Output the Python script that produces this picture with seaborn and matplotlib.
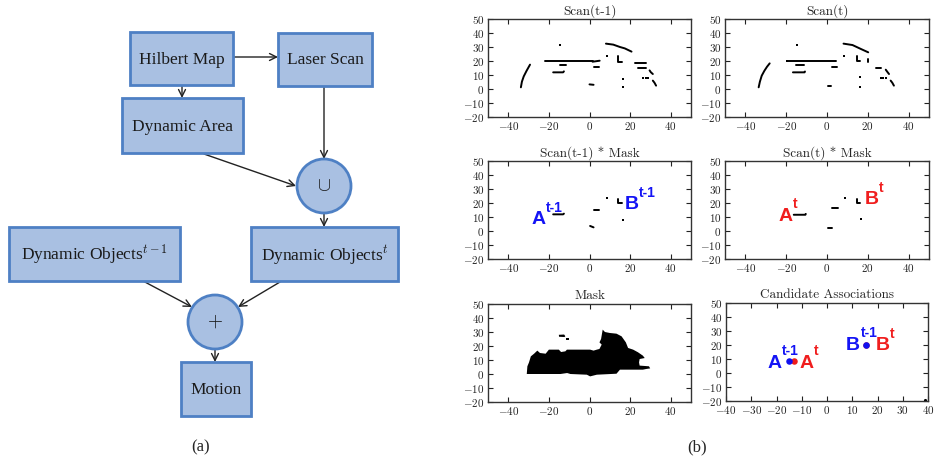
import numpy as np
import pandas as pd
import matplotlib
matplotlib.use("Agg")
import matplotlib.pyplot as plt
from matplotlib.patches import Rectangle, Circle
from matplotlib import font_manager
import seaborn as sns

# ---------------- data ----------------
scan_prev_lines = [
    [(-33.8, 1.2), (-33.3, 5.2), (-32.4, 9.0), (-31.0, 13.0), (-29.3, 17.4)],
    [(-22.0, 20.0), (1.5, 20.0)],
    [(1.5, 19.5), (5.0, 20.2)],
    [(-14.6, 17.4), (-11.4, 17.4)],
    [(-17.9, 11.9), (-13.0, 11.9), (-12.6, 12.6)],
    [(2.3, 16.0), (4.9, 16.0)],
    [(0.0, 3.3), (2.0, 3.0)],
    [(8.1, 32.4), (11.7, 31.7), (15.0, 30.0), (17.4, 29.0), (20.7, 26.7)],
    [(14.2, 23.3), (14.2, 19.6), (15.9, 19.6)],
    [(22.3, 18.8), (27.6, 18.8)],
    [(23.9, 15.0), (28.0, 15.0)],
    [(29.6, 13.3), (30.2, 12.0), (31.2, 10.7)],
    [(31.2, 6.0), (32.0, 4.5), (32.8, 2.4)],
]
scan_prev_dots = [(-14.6, 31.4), (8.5, 23.8), (16.3, 7.1), (16.3, 1.2),
                  (26.3, 7.6), (27.6, 7.6), (28.9, 7.6)]

scan_cur_lines = [
    [(-33.5, 1.2), (-32.9, 5.2), (-32.0, 9.5), (-30.7, 13.0), (-29.4, 15.9), (-28.1, 18.3)],
    [(-18.9, 20.2), (4.4, 20.2)],
    [(-15.1, 17.4), (-11.4, 17.4)],
    [(-16.7, 11.9), (-11.0, 11.9), (-10.8, 12.5)],
    [(2.3, 16.0), (4.9, 16.0)],
    [(0.3, 2.4), (2.0, 2.4)],
    [(8.1, 32.4), (12.5, 31.4), (16.6, 28.6), (20.2, 26.2)],
    [(14.5, 23.3), (14.5, 19.8), (16.0, 19.8)],
    [(20.3, 21.4), (20.3, 19.0)],
    [(23.9, 15.2), (26.3, 15.2)],
    [(28.8, 13.8), (29.6, 12.2), (30.4, 10.7)],
    [(31.2, 6.0), (32.0, 4.5), (32.8, 2.4)],
]
scan_cur_dots = [(-14.6, 31.4), (8.5, 23.8), (16.3, 8.8), (16.3, 1.2),
                 (26.3, 7.6), (27.6, 7.6), (28.9, 7.6), (-19.4, 20.2)]

masked_prev_lines = [
    [(-17.9, 11.9), (-13.0, 11.9), (-12.6, 12.4)],
    [(2.0, 15.2), (4.9, 15.2)],
    [(14.1, 23.0), (14.1, 19.8), (15.8, 19.8)],
    [(0.3, 3.6), (2.0, 2.6)],
]
masked_prev_dots = [(8.5, 23.6), (16.3, 7.6)]

masked_cur_lines = [
    [(-16.3, 11.6), (-10.6, 11.6), (-10.4, 12.2)],
    [(2.4, 16.4), (5.2, 16.4)],
    [(14.7, 23.0), (14.7, 20.2), (16.3, 20.2)],
    [(0.5, 2.4), (2.4, 2.4)],
]
masked_cur_dots = [(8.8, 23.8), (16.8, 8.8)]

mask_x = [-30.9, -30.6, -29.8, -28.9, -27.3, -25.7, -24.4, -21.6, -20.0, -15.1, -14.0,
          -11.9, -11.1, 0.3, 2.0, 3.6, 4.9, 6.0, 4.9, 5.7, 6.5, 7.6, 10.0, 13.3, 15.8,
          17.9, 19.0, 21.5, 23.9, 26.3, 27.2, 24.7, 24.4, 24.7, 29.3, 29.9, 28.0, 26.3,
          15.0, 13.3, 3.6, 0.3, -1.3, -9.4, -11.0, -14.3]
mask_y = [0.0, 5.5, 8.3, 12.6, 14.5, 16.7, 15.0, 14.5, 17.4, 17.4, 15.7,
          16.2, 17.4, 17.4, 16.7, 17.4, 17.9, 21.0, 22.6, 25.0, 31.7, 30.0, 29.3, 28.8, 26.9,
          22.6, 18.6, 17.4, 15.5, 13.1, 11.4, 10.7, 8.3, 6.0, 5.5, 4.0, 3.6, 3.1,
          3.1, 0.2, -0.5, -1.7, -0.5, 0.0, 0.7, 0.0]
island1_x = [-15.1, -12.5, -11.9, -12.3, -15.0]
island1_y = [28.0, 28.2, 27.0, 26.4, 26.6]
island2_x = [-11.5, -10.2, -10.2, -11.5]
island2_y = [25.5, 25.5, 24.6, 24.6]

assoc_prev = [(-14.9, 8.8), (15.4, 20.2)]   # blue (t-1)
assoc_cur = [(-12.9, 8.8), (15.6, 20.3)]    # red (t)
stray_dot = [(38.8, -19.5)]

panel_titles = ["Scan(t-1)", "Scan(t)", "Scan(t-1) * Mask", "Scan(t) * Mask",
                "Mask", "Candidate Associations"]
xticks_main = [-40, -20, 0, 20, 40]
xticks_assoc = [-40, -30, -20, -10, 0, 10, 20, 30, 40]
yticks_all = [-20, -10, 0, 10, 20, 30, 40, 50]

# ---------------- style ----------------
sns.set_style("ticks")
plt.rcParams["font.family"] = ["cmr10", "DejaVu Serif"]
plt.rcParams["mathtext.fontset"] = "cm"
plt.rcParams["axes.formatter.use_mathtext"] = True
plt.rcParams["axes.unicode_minus"] = True

installed = {f.name for f in font_manager.fontManager.ttflist}
SANS = "Liberation Sans Narrow" if "Liberation Sans Narrow" in installed else "Liberation Sans"
narrow = SANS == "Liberation Sans Narrow"

W, H = 935, 461
fig = plt.figure(figsize=(W / 100, H / 100), dpi=100)
fig.patch.set_facecolor("white")

# ---------------- flowchart (a) ----------------
axf = fig.add_axes([0, 0, 1, 1])
axf.set_xlim(0, W)
axf.set_ylim(H, 0)
axf.axis("off")

FILL = "#a9c0e2"
EDGE = "#4e80c4"
SERIF = "Liberation Serif"

boxes = [
    ((130, 32, 233, 85), "Hilbert Map"),
    ((278, 33, 372, 86), "Laser Scan"),
    ((122, 98, 243, 153), "Dynamic Area"),
    ((9, 227, 180, 281), r"Dynamic Objects$^{t-1}$"),
    ((251, 227, 398, 281), r"Dynamic Objects$^{t}$"),
    ((181, 362, 251, 416), "Motion"),
]
for (x0, y0, x1, y1), lab in boxes:
    axf.add_patch(Rectangle((x0, y0), x1 - x0, y1 - y0, facecolor=FILL,
                            edgecolor=EDGE, lw=2.0, zorder=2))
    axf.text((x0 + x1) / 2, (y0 + y1) / 2 + 1, lab, ha="center", va="center",
             fontsize=12.5, family=SERIF, math_fontfamily="cm", color="#1a1a1a", zorder=3)

circles = [((324, 186), r"$\cup$"), ((215, 322), r"$+$")]
for (cx, cy), sym in circles:
    axf.add_patch(Circle((cx, cy), 27, facecolor=FILL, edgecolor=EDGE, lw=2.0, zorder=2))
    axf.text(cx, cy, sym, ha="center", va="center", fontsize=14,
             math_fontfamily="cm", color="#1a1a1a", zorder=3)

arrows = [((233, 57), (278, 57)), ((182, 85), (182, 98)), ((324, 86), (324, 159)),
          ((204, 154), (296, 186)), ((324, 213), (324, 227)), ((143, 281), (192, 307)),
          ((280, 282), (238, 307)), ((215, 349), (215, 362))]
for s, e in arrows:
    axf.annotate("", xy=e, xytext=s,
                 arrowprops=dict(arrowstyle="->,head_length=0.5,head_width=0.25",
                                 color="#222222", lw=1.0, shrinkA=0, shrinkB=0),
                 zorder=1)

axf.text(201, 447, "(a)", ha="center", va="center", fontsize=12, family=SERIF)
axf.text(697, 447, "(b)", ha="center", va="center", fontsize=12, family=SERIF)

# ---------------- panels (b) ----------------
rects = [(488, 19, 691, 117), (725, 19, 929, 117),
         (488, 161, 691, 259), (725, 161, 929, 259),
         (488, 304, 691, 402), (726, 303, 928, 401)]
axes = []
for (l, t, r, b) in rects:
    ax = fig.add_axes([l / W, 1 - b / H, (r - l) / W, (b - t) / H])
    ax.set_facecolor("white")
    axes.append(ax)


def draw_scan(ax, lines, dots):
    rows = []
    for i, seg in enumerate(lines):
        for (x, y) in seg:
            rows.append({"x": x, "y": y, "seg": i})
    df = pd.DataFrame(rows)
    sns.lineplot(data=df, x="x", y="y", units="seg", estimator=None, sort=False,
                 color="black", linewidth=1.4, ax=ax, legend=False)
    dd = pd.DataFrame(dots, columns=["x", "y"])
    sns.scatterplot(data=dd, x="x", y="y", marker="s", s=2.5, color="black",
                    linewidth=0, ax=ax, legend=False)


draw_scan(axes[0], scan_prev_lines, scan_prev_dots)
draw_scan(axes[1], scan_cur_lines, scan_cur_dots)
draw_scan(axes[2], masked_prev_lines, masked_prev_dots)
draw_scan(axes[3], masked_cur_lines, masked_cur_dots)

axes[4].fill(mask_x, mask_y, color="black", lw=0)
axes[4].fill(island1_x, island1_y, color="black", lw=0)
axes[4].fill(island2_x, island2_y, color="black", lw=0)

ap = pd.DataFrame(assoc_prev, columns=["x", "y"])
ac = pd.DataFrame(assoc_cur, columns=["x", "y"])
sd = pd.DataFrame(stray_dot, columns=["x", "y"])
sns.scatterplot(data=ac, x="x", y="y", color="#ee1c1c", s=22, linewidth=0, ax=axes[5], legend=False)
sns.scatterplot(data=ap, x="x", y="y", color="#1010f0", s=22, linewidth=0, ax=axes[5], legend=False)
sns.scatterplot(data=sd, x="x", y="y", color="black", s=5, linewidth=0, ax=axes[5], legend=False)

BLUE = "#1414f5"
RED = "#f01e1e"
MAIN_FS = 15.5 if narrow else 14
SUP_FS = 11 if narrow else 10


def label(ax, x, y, main, sup, color):
    t = ax.text(x, y, main, color=color, family=SANS, weight="bold", fontsize=MAIN_FS,
                ha="left", va="baseline", zorder=5)
    ax.annotate(sup, xy=(1.0, 0.8), xycoords=t, xytext=(0.2, 0),
                textcoords="offset points", color=color, family=SANS, weight="bold",
                fontsize=SUP_FS, ha="left", va="bottom", zorder=5)


label(axes[2], -28.4, 4.8, "A", "t-1", BLUE)
label(axes[2], 17.2, 15.5, "B", "t-1", BLUE)
label(axes[3], -24.0, 7.1, "A", "t", RED)
label(axes[3], 18.6, 19.0, "B", "t", RED)
label(axes[5], -23.6, 3.6, "A", "t-1", BLUE)
label(axes[5], -10.8, 3.6, "A", "t", RED)
label(axes[5], 7.6, 16.7, "B", "t-1", BLUE)
label(axes[5], 19.4, 16.2, "B", "t", RED)

for i, ax in enumerate(axes):
    if i == 5:
        ax.set_xlim(-40, 40)
        ax.set_xticks(xticks_assoc)
    else:
        ax.set_xlim(-50, 50)
        ax.set_xticks(xticks_main)
    ax.set_ylim(-20, 50)
    ax.set_yticks(yticks_all)
    ax.set_xlabel("")
    ax.set_ylabel("")
    ax.set_title(panel_titles[i], fontsize=9.5, pad=3.5)
    ax.tick_params(direction="in", top=True, right=True, length=3.5, width=0.8,
                   labelsize=8, pad=2.5, colors="#222222")
    for sp in ax.spines.values():
        sp.set_visible(True)
        sp.set_color("#333333")
        sp.set_linewidth(1.0)

fig.savefig("out.png", dpi=100, facecolor="white")
